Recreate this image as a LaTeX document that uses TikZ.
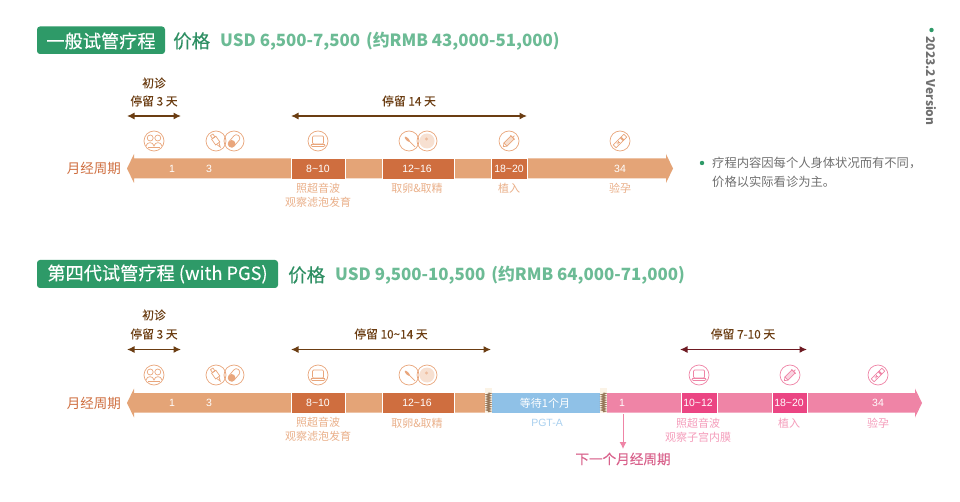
\documentclass[tikz,border=0pt]{standalone}
\usepackage{fontspec}
\usepackage{xcolor}
\setmainfont{Noto Sans CJK SC}
\newfontfamily\medfont[FakeBold=0.2]{Noto Sans CJK SC}
\newfontfamily\numfont{Liberation Sans}
\usetikzlibrary{arrows.meta,decorations.pathmorphing}

\definecolor{boxgreen}{HTML}{2E9A68}
\definecolor{pricegreen}{HTML}{2E8F63}
\definecolor{lightgreen}{HTML}{6CBB95}
\definecolor{barorange}{HTML}{E4A477}
\definecolor{darkorange}{HTML}{CF6E3F}
\definecolor{textorange}{HTML}{EAB08A}
\definecolor{iconorange}{HTML}{E9A67C}
\definecolor{staybrown}{HTML}{6B3D12}
\definecolor{barpink}{HTML}{EF84A6}
\definecolor{darkpink}{HTML}{EB4583}
\definecolor{textpink}{HTML}{F59DBB}
\definecolor{nextpink}{HTML}{D9628C}
\definecolor{staywine}{HTML}{6E1A22}
\definecolor{barblue}{HTML}{8FC1E7}
\definecolor{textblue}{HTML}{A9D0EF}
\definecolor{hatchcream}{HTML}{FBF3E6}
\definecolor{notegray}{HTML}{707070}
\colorlet{iconcol}{iconorange}

\tikzset{
  x=1pt, y=-1pt,
  titlebox/.style={fill=boxgreen, rounded corners=3pt},
  titletext/.style={text=white, inner sep=0pt, font=\medfont\fontsize{18.2}{18}\selectfont},
  pricetag/.style={text=pricegreen, anchor=west, inner sep=0pt, font=\medfont\fontsize{18.5}{18.5}\selectfont},
  pricetext/.style={text=lightgreen, anchor=west, inner sep=0pt, font=\bfseries\fontsize{16.85}{18}\selectfont},
  cyclelabel/.style={text=darkorange, anchor=east, inner sep=0pt, font=\fontsize{13.5}{14}\selectfont},
  staytext/.style={text=staybrown, inner sep=0pt, font=\medfont\fontsize{11.8}{12}\selectfont},
  stayarrow/.style={staybrown, line width=1.2pt, {Latex[length=7.5pt,width=7pt]}-{Latex[length=7.5pt,width=7pt]}},
  daynum/.style={text=white, inner sep=0pt, font=\numfont\fontsize{10.5}{11}\selectfont},
  steptext/.style={text=textorange, inner sep=0pt, font=\fontsize{11}{11}\selectfont},
  segbox/.style={draw=white, line width=0.8pt},
  zigzagline/.style={draw=staybrown!70, line width=1.2pt, decorate, decoration={zigzag, amplitude=1.8pt, segment length=2.2pt}},
  icon/.style={draw=iconcol, line width=0.7pt},
  pics/iconpeople/.style={code={
    \draw[icon] (0,0) circle (10);
    \draw[icon] (-3.8,-3) circle (3) (3.8,-3) circle (3);
    \draw[icon] (-8,5) .. controls (-7,0.5) and (-1,0.5) .. (0,5) .. controls (1,0.5) and (7,0.5) .. (8,5);
    \draw[icon] (-6,6.5) -- (6,6.5);
  }},
  pics/icontube/.style={code={
    \draw[icon] (0,0) circle (10);
    \begin{scope}[rotate=-55]
      \draw[icon] (-4,-2.6) rectangle (3,2.6);
      \draw[icon] (3,-1.5) -- (7.5,0) -- (3,1.5);
      \draw[icon] (-7.5,-1.5) rectangle (-4,1.5);
    \end{scope}
  }},
  pics/iconpill/.style={code={
    \draw[icon] (0,0) circle (10);
    \begin{scope}[rotate=50]
      \draw[icon, rounded corners=3pt] (-7,-3.4) rectangle (7,3.4);
      \fill[iconcol, rounded corners=3pt] (-7,-3.4) rectangle (0,3.4);
    \end{scope}
  }},
  pics/iconlaptop/.style={code={
    \draw[icon] (0,0) circle (10);
    \draw[icon, rounded corners=1pt] (-5.5,-5) rectangle (5.5,3);
    \draw[icon, rounded corners=1pt] (-7.5,3.5) -- (-6.5,5.5) -- (6.5,5.5) -- (7.5,3.5) -- cycle;
  }},
  pics/iconneedle/.style={code={
    \draw[icon] (0,0) circle (10);
    \draw[icon] (-4,-4) -- (6,6);
    \fill[iconcol, rotate=-45] (-2.5,0) ellipse (3.5 and 1.3);
  }},
  pics/iconegg/.style={code={
    \draw[icon] (0,0) circle (10);
    \fill[iconcol!35] (0,0) circle (7.5);
    \fill[iconcol!75] (-0.5,-2) circle (1.6);
  }},
  pics/iconpen/.style={code={
    \draw[icon] (0,0) circle (10);
    \begin{scope}[rotate=45]
      \draw[icon, fill=iconcol!35] (-5,-2.2) rectangle (5,2.2);
      \draw[icon] (-5,-2.2) -- (-8,0) -- (-5,2.2);
      \draw[icon] (5,-3) -- (5,3) (5,0) -- (7.5,0);
    \end{scope}
  }},
  pics/icontest/.style={code={
    \draw[icon] (0,0) circle (10);
    \begin{scope}[rotate=45]
      \draw[icon] (-7.5,-2) rectangle (7.5,2);
      \fill[iconcol] (2,-2) rectangle (4,2);
      \draw[icon] (-4,-1) -- (-1,1);
      \draw[icon] (-4,1) -- (-1,-1);
    \end{scope}
  }},
}

\begin{document}
\begin{tikzpicture}
  \useasboundingbox (0,0) rectangle (960,502);
  \fill[white] (0,0) rectangle (960,502);

  % version tag
  \fill[boxgreen] (931.5,30) circle (2.2);
  \node[text=notegray, rotate=-90, inner sep=0pt, font=\bfseries\fontsize{12}{12}\selectfont] (version) at (931,81) {2023.2 Version};

  % first plan
  \fill[titlebox] (37,26.5) rectangle (165,54);
  \node[titletext] (titleA) at (101,41) {一般试管疗程};
  \node[pricetag] (tagA) at (173,41) {价格};
  \node[pricetext] (priceA) at (220,41) {USD 6,500-7,500\hspace{0.35em}(约RMB 43,000-51,000)};

  \node[staytext] (firstA) at (154,83) {初诊};
  \node[staytext] (stayA) at (154,101) {停留 3 天};
  \node[staytext] (stayB) at (409,101) {停留 14 天};
  \coordinate (stayAl) at (127,116);
  \coordinate (stayAr) at (181,116);
  \coordinate (stayBl) at (291,116);
  \coordinate (stayBr) at (527,116);
  \draw[stayarrow] (stayAl) -- (stayAr);
  \draw[stayarrow] (stayBl) -- (stayBr);

  \pic at (154,141) {iconpeople};
  \pic at (216,141) {icontube};
  \pic at (234,141) {iconpill};
  \pic at (318,141) {iconlaptop};
  \pic at (409,141) {iconneedle};
  \pic at (427,141) {iconegg};
  \pic at (509,141) {iconpen};
  \pic at (620,141) {icontest};

  \node[cyclelabel] (cycleA) at (121,168) {月经周期};
  \fill[barorange] (127,168.5) -- (134,154) -- (134,158.5) -- (666,158.5) -- (666,154) -- (673,168.5) -- (666,183) -- (666,178.5) -- (134,178.5) -- (134,183) -- cycle;
  \draw[segbox, fill=darkorange] (291,158) rectangle (345,179);
  \draw[segbox] (345,158) rectangle (382,179);
  \draw[segbox, fill=darkorange] (382,158) rectangle (454,179);
  \draw[segbox] (454,158) rectangle (491,179);
  \draw[segbox, fill=darkorange] (491,158) rectangle (527,179);

  \foreach \id/\xpos/\txt in {a/172/1, b/209/3, c/318/8\char`~10, d/417/12\char`~16, e/509/18\char`~20, f/620/34}
    \node[daynum] (dayA\id) at (\xpos,169) {\txt};

  \node[steptext] (scanA) at (318,188) {照超音波};
  \node[steptext] (scanAb) at (318,202) {观察滤泡发育};
  \node[steptext] (eggA) at (417,188) {取卵\&取精};
  \node[steptext] (implantA) at (509,188) {植入};
  \node[steptext] (testA) at (620,188) {验孕};

  % note
  \fill[boxgreen] (702,163) circle (2.2);
  \node[text=notegray, anchor=west, inner sep=0pt, font=\fontsize{12.3}{12.3}\selectfont] (noteA) at (712,163) {疗程内容因每个人身体状况而有不同，};
  \node[text=notegray, anchor=west, inner sep=0pt, font=\fontsize{12.3}{12.3}\selectfont] (noteB) at (712,182) {价格以实际看诊为主。};

  % second plan
  \fill[titlebox] (37,260) rectangle (278,288);
  \node[titletext] (titleC) at (157.5,274) {第四代试管疗程 (with PGS)};
  \node[pricetag] (tagC) at (288,275) {价格};
  \node[pricetext] (priceC) at (335,275) {USD 9,500-10,500\hspace{0.35em}(约RMB 64,000-71,000)};

  \node[staytext] (firstC) at (154,315) {初诊};
  \node[staytext] (stayC) at (154,334) {停留 3 天};
  \node[staytext] (stayD) at (391,334) {停留 10\char`~14 天};
  \node[staytext] (stayE) at (743,334) {停留 7-10 天};
  \coordinate (stayCl) at (127,349.5);
  \coordinate (stayCr) at (181,349.5);
  \coordinate (stayDl) at (291,349.5);
  \coordinate (stayDr) at (491,349.5);
  \coordinate (stayEl) at (680,349.5);
  \coordinate (stayEr) at (807,349.5);
  \draw[stayarrow] (stayCl) -- (stayCr);
  \draw[stayarrow] (stayDl) -- (stayDr);
  \draw[stayarrow, staywine] (stayEl) -- (stayEr);

  \pic at (154,375) {iconpeople};
  \pic at (216,375) {icontube};
  \pic at (234,375) {iconpill};
  \pic at (318,375) {iconlaptop};
  \pic at (409,375) {iconneedle};
  \pic at (427,375) {iconegg};
  \begin{scope}
    \colorlet{iconcol}{barpink}
    \pic at (699,375) {iconlaptop};
    \pic at (790,375) {iconpen};
    \pic at (878,375) {icontest};
  \end{scope}

  \node[cyclelabel] (cycleC) at (121,403) {月经周期};
  \fill[barorange] (127,403) -- (134,388.5) -- (134,393) -- (485,393) -- (485,412.5) -- (134,412.5) -- (134,417.5) -- cycle;
  \draw[segbox, fill=darkorange] (291,392.5) rectangle (345,413);
  \draw[segbox] (345,392.5) rectangle (382,413);
  \draw[segbox, fill=darkorange] (382,392.5) rectangle (454,413);
  \fill[hatchcream] (485,388) rectangle (492,413);
  \fill[hatchcream] (600,388) rectangle (607,413);
  \fill[barblue] (492,393) rectangle (600,412.5);
  \draw[zigzagline] (488.5,393) -- (488.5,412);
  \draw[zigzagline] (603.5,393) -- (603.5,412);
  \fill[barpink] (607,393) -- (915,393) -- (915,388.5) -- (922,403) -- (915,417.5) -- (915,412.5) -- (607,412.5) -- cycle;
  \draw[segbox, fill=darkpink] (681,392.5) rectangle (717,413);
  \draw[segbox, fill=darkpink] (772,392.5) rectangle (807.5,413);

  \foreach \id/\xpos/\txt in {a/172/1, b/209/3, c/318/8\char`~10, d/417/12\char`~16, e/622/1, f/698/10\char`~12, g/789/18\char`~20, h/878/34}
    \node[daynum] (dayC\id) at (\xpos,403) {\txt};
  \node[daynum, font=\fontsize{11}{11}\selectfont] (waitC) at (545,403) {等待1个月};

  \node[steptext] (scanC) at (318,422) {照超音波};
  \node[steptext] (scanCb) at (318,436) {观察滤泡发育};
  \node[steptext] (eggC) at (417,423) {取卵\&取精};
  \node[steptext, text=textblue, font=\numfont\fontsize{10.5}{11}\selectfont] (pgtC) at (547,423) {PGT-A};
  \node[steptext, text=textpink] (scanD) at (698,423) {照超音波};
  \node[steptext, text=textpink] (scanDb) at (698,437) {观察子宫内膜};
  \node[steptext, text=textpink] (implantD) at (789,423) {植入};
  \node[steptext, text=textpink] (testD) at (878,423) {验孕};

  \node[text=nextpink, inner sep=0pt, font=\medfont\fontsize{13.6}{14}\selectfont] (nextC) at (623,459) {下一个月经周期};
  \coordinate (nextTop) at (623,414);
  \coordinate (nextEnd) at (623,449);
  \draw[barpink, line width=1pt, -{Latex[length=7pt,width=7pt]}] (nextTop) -- (nextEnd);
\end{tikzpicture}
\end{document}
